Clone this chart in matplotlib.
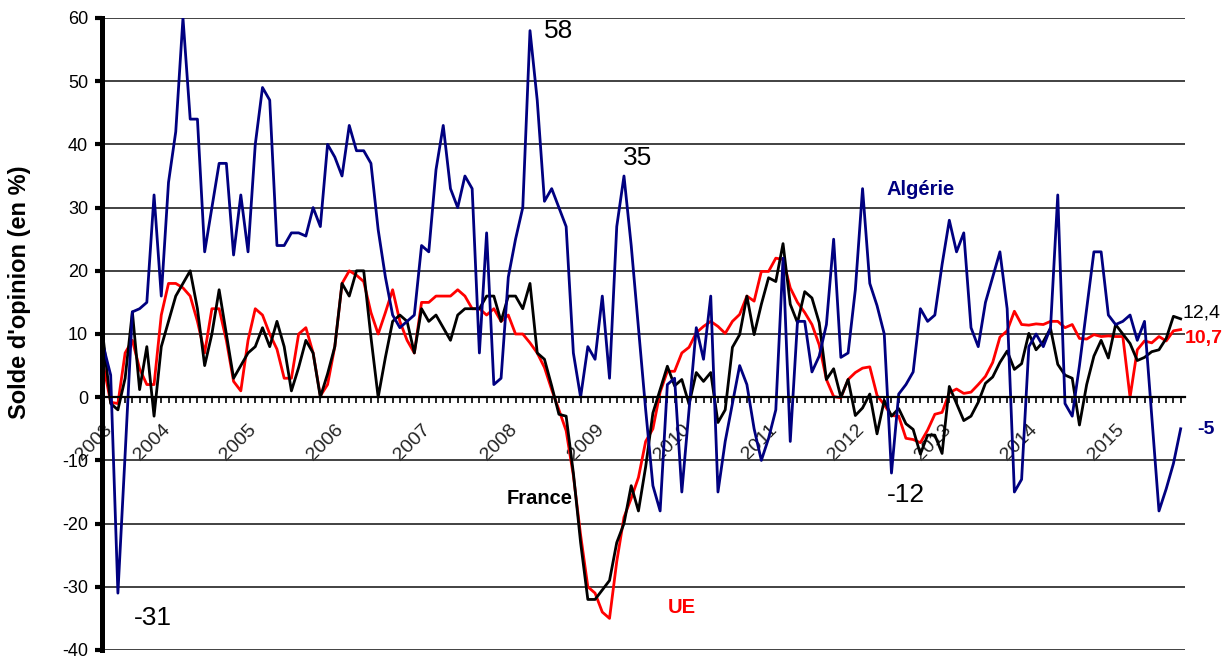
import numpy as np
import matplotlib
matplotlib.use('Agg')
import matplotlib.pyplot as plt

plt.rcParams['font.family'] = ['Liberation Sans', 'DejaVu Sans']

# monthly survey balances, first point = May 2003
algerie = [8, 3.5, -31, -9, 13.5, 14, 15, 32, 16, 34,
           42, 60, 44, 44, 23, 30, 37, 37, 22.5, 32,
           23, 40, 49, 47, 24, 24, 26, 26, 25.5, 30,
           27, 40, 38, 35, 43, 39, 39, 37, 26.5, 19,
           13, 11, 12, 13, 24, 23, 36, 43, 33, 30,
           35, 33, 7, 26, 2, 3, 19, 25, 30, 58,
           47, 31, 33, 30, 27, 7, 0, 8, 6, 16,
           3, 27, 35, 24, 11, -2, -14, -18, 2, 3,
           -15, -2, 11, 6, 16, -15, -7, -1, 5, 2,
           -5, -10, -6.5, -2, 22, -7, 12, 12, 4, 6.5,
           11.5, 25, 6.3, 7, 17, 33, 18, 14.5, 10, -12,
           0.5, 2, 4, 14, 12, 13, 21, 28, 23, 26,
           11, 8, 15, 19, 23, 14, -15, -13, 8, 10,
           8, 11, 32, -1, -3, 5, 14, 23, 23, 13,
           11.5, 12, 13, 9, 12, -3, -18, -14.5, -10.5, -5]

france = [9, -1, -2, 3, 13.5, 1.2, 8, -3, 8, 12,
          16, 18, 20, 14, 5, 10, 17, 10, 3, 5,
          7, 8, 11, 8, 12, 8, 1, 4.7, 9, 7,
          0, 3.7, 8, 18, 16, 20, 20, 9.5, 0, 6.3,
          12, 13, 12, 7, 14, 12, 13, 11, 9, 13,
          14, 14, 14, 16, 16, 12, 16, 16, 14, 18,
          7, 6, 1.8, -2.7, -3, -12, -23, -32, -32, -30.5,
          -29, -23, -20, -14, -18, -11, -2.5, 1.2, 4.9, 1.8,
          2.8, -1.1, 3.9, 2.5, 3.9, -4, -2, 7.9, 9.9, 16,
          9.9, 14.7, 18.9, 18.3, 24.3, 14.7, 11.8, 16.7, 15.7, 11.8,
          2.8, 4.5, 0, 2.8, -2.9, -1.7, 0.5, -5.8, -0.5, -3,
          -1.8, -4.2, -5.1, -9, -6, -6, -8.9, 1.7, -1, -3.7,
          -3, -0.8, 2.2, 3.2, 5.5, 7.3, 4.4, 5.3, 10.1, 7.5,
          8.8, 10.9, 5.2, 3.5, 3, -4.4, 2, 6.5, 9, 6.2,
          11.5, 10, 8.5, 5.8, 6.3, 7.2, 7.5, 9.3, 12.8, 12.4]

ue = [5, -0.8, -1, 7, 9, 4.5, 2, 2, 13, 18,
      18, 17.3, 16, 12, 7, 14, 14, 9, 2.5, 1,
      9, 14, 13, 10, 7.6, 3, 3, 10, 11, 7,
      0.2, 2, 8, 18, 20, 19.3, 18.3, 13.4, 10, 13.4,
      17, 12, 9, 7, 15, 15, 16, 16, 16, 17,
      16, 14, 14, 13, 14, 12, 13, 10, 10, 8.6,
      7, 4.7, 1.2, -2, -5.3, -12.4, -21.8, -30, -31, -34,
      -35, -26, -19, -16, -12.7, -7, -5, 0.8, 4.1, 4.1,
      7, 7.9, 10.2, 11.2, 12, 11.2, 10.1, 12, 13.1, 16,
      15.2, 19.9, 19.9, 22, 21.8, 17.3, 15, 13.4, 11.5, 8.3,
      2.8, 0.1, -0.1, 2.8, 3.9, 4.6, 4.8, 0.3, -1.2, -2.9,
      -3, -6.5, -6.7, -7.2, -5.2, -2.7, -2.4, 0.7, 1.3, 0.6,
      0.8, 2, 3.3, 5.5, 9.5, 10.5, 13.6, 11.5, 11.4, 11.6,
      11.5, 12, 12, 11, 11.5, 9.3, 9.2, 9.9, 9.6, 9.7,
      9.6, 9.6, 0, 7.5, 8.9, 8.6, 9.6, 8.9, 10.5, 10.7]

years = ['2003', '2004', '2005', '2006', '2007', '2008', '2009',
         '2010', '2011', '2012', '2013', '2014', '2015']
yticks = [-40, -30, -20, -10, 0, 10, 20, 30, 40, 50, 60]

months = np.arange(len(algerie))
# "2003" sits on the first month, the others on January
year_pos = [0] + [8 + 12 * k for k in range(len(years) - 1)]

blue = '#000080'

fig = plt.figure(figsize=(12.29, 6.62), dpi=100)
ax = fig.add_axes([102 / 1229, 12 / 662, 1083 / 1229, 632 / 662])

ax.plot(months, ue, color='#ff0000', linewidth=2.0)
ax.plot(months, france, color='black', linewidth=2.0)
ax.plot(months, algerie, color=blue, linewidth=2.0)

ax.set_xlim(-0.2, 149.6)
ax.set_ylim(-40, 60)

# horizontal grid
ax.set_yticks(yticks)
ax.set_yticklabels([str(v) for v in yticks], fontsize=13)
ax.yaxis.grid(True, color='#333333', linewidth=1.3)
ax.set_axisbelow(True)
ax.tick_params(axis='y', direction='out', length=5, width=3, pad=5)

# axes lines
for s in ['top', 'right']:
    ax.spines[s].set_visible(False)
ax.spines['left'].set_linewidth(3.6)
ax.spines['bottom'].set_position(('data', 0))
ax.spines['bottom'].set_linewidth(1.6)

ax.set_xticks(year_pos)
ax.set_xticklabels(years, fontsize=14, rotation=45, ha='right', va='top',
                   rotation_mode='anchor', color='#222222')
ax.set_xticks(months, minor=True)
ax.tick_params(axis='x', which='both', direction='out', length=4, width=1.2, pad=13)

fig.text(20 / 1229, 1 - 292 / 662, "Solde d'opinion (en %)", rotation=90,
         ha='center', va='center', fontsize=17, fontweight='bold')

# annotations
ax.text(63.0, 57.9, '58', fontsize=19, ha='center', va='center')
ax.text(73.9, 37.8, '35', fontsize=19, ha='center', va='center')
ax.text(6.8, -35.0, '-31', fontsize=19, ha='center', va='center')
ax.text(111.0, -15.5, '-12', fontsize=19, ha='center', va='center')
ax.text(113.1, 32.9, 'Algérie', fontsize=14.5, fontweight='bold', color=blue,
        ha='center', va='center')
ax.text(60.3, -16.0, 'France', fontsize=14.5, fontweight='bold', color='black',
        ha='center', va='center')
ax.text(80.0, -33.2, 'UE', fontsize=14.5, fontweight='bold', color='#ff0000',
        ha='center', va='center')
ax.text(149.3, 13.3, '12,4', fontsize=14, color='black', ha='left', va='center')
ax.text(149.6, 9.3, '10,7', fontsize=14, fontweight='bold', color='#ff0000',
        ha='left', va='center')
ax.text(151.3, -5.1, '-5', fontsize=14, fontweight='bold', color=blue,
        ha='left', va='center')

plt.savefig('out.png', dpi=100)
plt.close(fig)
